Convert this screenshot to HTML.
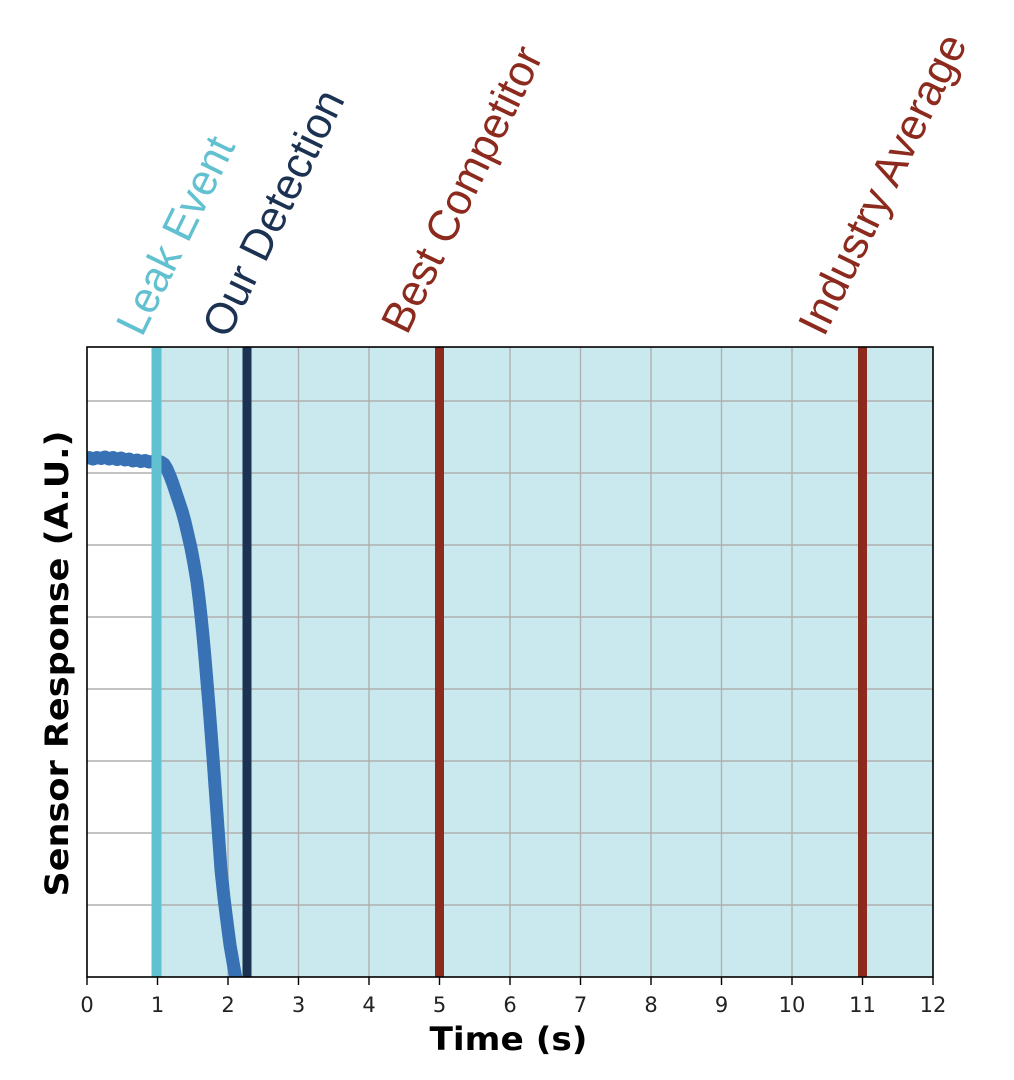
<!DOCTYPE html>
<html>
<head>
<meta charset="utf-8">
<style>
  html, body { margin: 0; padding: 0; background: #ffffff; }
  body { width: 1014px; height: 1080px; overflow: hidden; }
  svg { display: block; }
</style>
</head>
<body>
<svg width="1014" height="1080" viewBox="0 0 1014 1080" xmlns="http://www.w3.org/2000/svg">
  <defs>
    <clipPath id="plotclip">
      <rect x="87" y="347" width="846" height="630"/>
    </clipPath>
  </defs>
  <rect x="0" y="0" width="1014" height="1080" fill="#ffffff"/>

  <!-- plot background -->
  <rect x="87" y="347" width="846" height="630" fill="#ffffff"/>
  <!-- shaded region from t=1 -->
  <rect x="157.5" y="347" width="775.5" height="630" fill="#c9e9ee"/>

  <!-- grid -->
  <g stroke="#b0b0b0" stroke-width="1.4">
    <line x1="157.5" y1="347" x2="157.5" y2="977"/>
    <line x1="228" y1="347" x2="228" y2="977"/>
    <line x1="298.5" y1="347" x2="298.5" y2="977"/>
    <line x1="369" y1="347" x2="369" y2="977"/>
    <line x1="439.5" y1="347" x2="439.5" y2="977"/>
    <line x1="510" y1="347" x2="510" y2="977"/>
    <line x1="580.5" y1="347" x2="580.5" y2="977"/>
    <line x1="651" y1="347" x2="651" y2="977"/>
    <line x1="721.5" y1="347" x2="721.5" y2="977"/>
    <line x1="792" y1="347" x2="792" y2="977"/>
    <line x1="862.5" y1="347" x2="862.5" y2="977"/>
    <line x1="87" y1="401" x2="933" y2="401"/>
    <line x1="87" y1="473" x2="933" y2="473"/>
    <line x1="87" y1="545" x2="933" y2="545"/>
    <line x1="87" y1="617" x2="933" y2="617"/>
    <line x1="87" y1="689" x2="933" y2="689"/>
    <line x1="87" y1="761" x2="933" y2="761"/>
    <line x1="87" y1="833" x2="933" y2="833"/>
    <line x1="87" y1="905" x2="933" y2="905"/>
  </g>

  <!-- sensor curve -->
  <g clip-path="url(#plotclip)">
    <path d="M85,458.5 L89,457.5 L93,459 L97,457.5 L101,458.5 L105,457 L109,459 L113,457.5 L117,459.5 L121,458 L125,460 L129,459 L133,461 L137,460 L141,461.5 L145,460.5 L149,462 L153,461.5 L157,462.5 L161,462 L164,464 L167,469 L170,476 L173,484 L176,493 L179,502 L182,511 L185,522 L188,535 L191,548 L194,564 L197,582 L199,598 L201,616 L203,636 L205,658 L207,682 L209,706 L211,732 L213,758 L215,786 L217,814 L219,842 L221,870 L224,898 L227,922 L230,945 L234,968 L238,990"
          fill="none" stroke="#3872b4" stroke-width="13" stroke-linejoin="round" stroke-linecap="butt"/>
  </g>

  <!-- event lines -->
  <line x1="156.5" y1="347" x2="156.5" y2="977" stroke="#62c1d1" stroke-width="10"/>
  <line x1="247" y1="347" x2="247" y2="977" stroke="#1c3252" stroke-width="9"/>
  <line x1="439.5" y1="347" x2="439.5" y2="977" stroke="#8b2a1d" stroke-width="9"/>
  <line x1="862.5" y1="347" x2="862.5" y2="977" stroke="#8b2a1d" stroke-width="9"/>

  <!-- axes frame -->
  <rect x="87" y="347" width="846" height="630" fill="none" stroke="#000000" stroke-width="1.6"/>

  <!-- x ticks -->
  <g stroke="#000" stroke-width="1.4">
    <line x1="87" y1="977" x2="87" y2="985"/>
    <line x1="157.5" y1="977" x2="157.5" y2="985"/>
    <line x1="228" y1="977" x2="228" y2="985"/>
    <line x1="298.5" y1="977" x2="298.5" y2="985"/>
    <line x1="369" y1="977" x2="369" y2="985"/>
    <line x1="439.5" y1="977" x2="439.5" y2="985"/>
    <line x1="510" y1="977" x2="510" y2="985"/>
    <line x1="580.5" y1="977" x2="580.5" y2="985"/>
    <line x1="651" y1="977" x2="651" y2="985"/>
    <line x1="721.5" y1="977" x2="721.5" y2="985"/>
    <line x1="792" y1="977" x2="792" y2="985"/>
    <line x1="862.5" y1="977" x2="862.5" y2="985"/>
    <line x1="933" y1="977" x2="933" y2="985"/>
  </g>
  <g font-family="'DejaVu Sans', 'Liberation Sans', sans-serif" font-size="21" fill="#222222" text-anchor="middle">
    <text x="87" y="1012">0</text>
    <text x="157.5" y="1012">1</text>
    <text x="228" y="1012">2</text>
    <text x="298.5" y="1012">3</text>
    <text x="369" y="1012">4</text>
    <text x="439.5" y="1012">5</text>
    <text x="510" y="1012">6</text>
    <text x="580.5" y="1012">7</text>
    <text x="651" y="1012">8</text>
    <text x="721.5" y="1012">9</text>
    <text x="792" y="1012">10</text>
    <text x="862.5" y="1012">11</text>
    <text x="933" y="1012">12</text>
  </g>

  <!-- axis labels -->
  <text x="508.5" y="1050" font-family="'DejaVu Sans', 'Liberation Sans', sans-serif" font-weight="bold" font-size="32" fill="#000" text-anchor="middle" textLength="158" lengthAdjust="spacingAndGlyphs">Time (s)</text>
  <text transform="translate(68,663.5) rotate(-90)" font-family="'DejaVu Sans', 'Liberation Sans', sans-serif" font-weight="bold" font-size="32" fill="#000" text-anchor="middle" textLength="466" lengthAdjust="spacingAndGlyphs">Sensor Response (A.U.)</text>

  <!-- rotated annotations -->
  <g font-family="'Liberation Sans', 'DejaVu Sans', sans-serif" font-size="44">
    <text transform="translate(142,338) rotate(-64)" fill="#62c1d1" textLength="214" lengthAdjust="spacingAndGlyphs">Leak Event</text>
    <text transform="translate(228,340) rotate(-64)" fill="#1c3252" textLength="268" lengthAdjust="spacingAndGlyphs">Our Detection</text>
    <text transform="translate(407,336) rotate(-64)" fill="#8b2a1d" textLength="312" lengthAdjust="spacingAndGlyphs">Best Competitor</text>
    <text transform="translate(824,338) rotate(-64)" fill="#8b2a1d" textLength="328" lengthAdjust="spacingAndGlyphs">Industry Average</text>
  </g>
</svg>
</body>
</html>
